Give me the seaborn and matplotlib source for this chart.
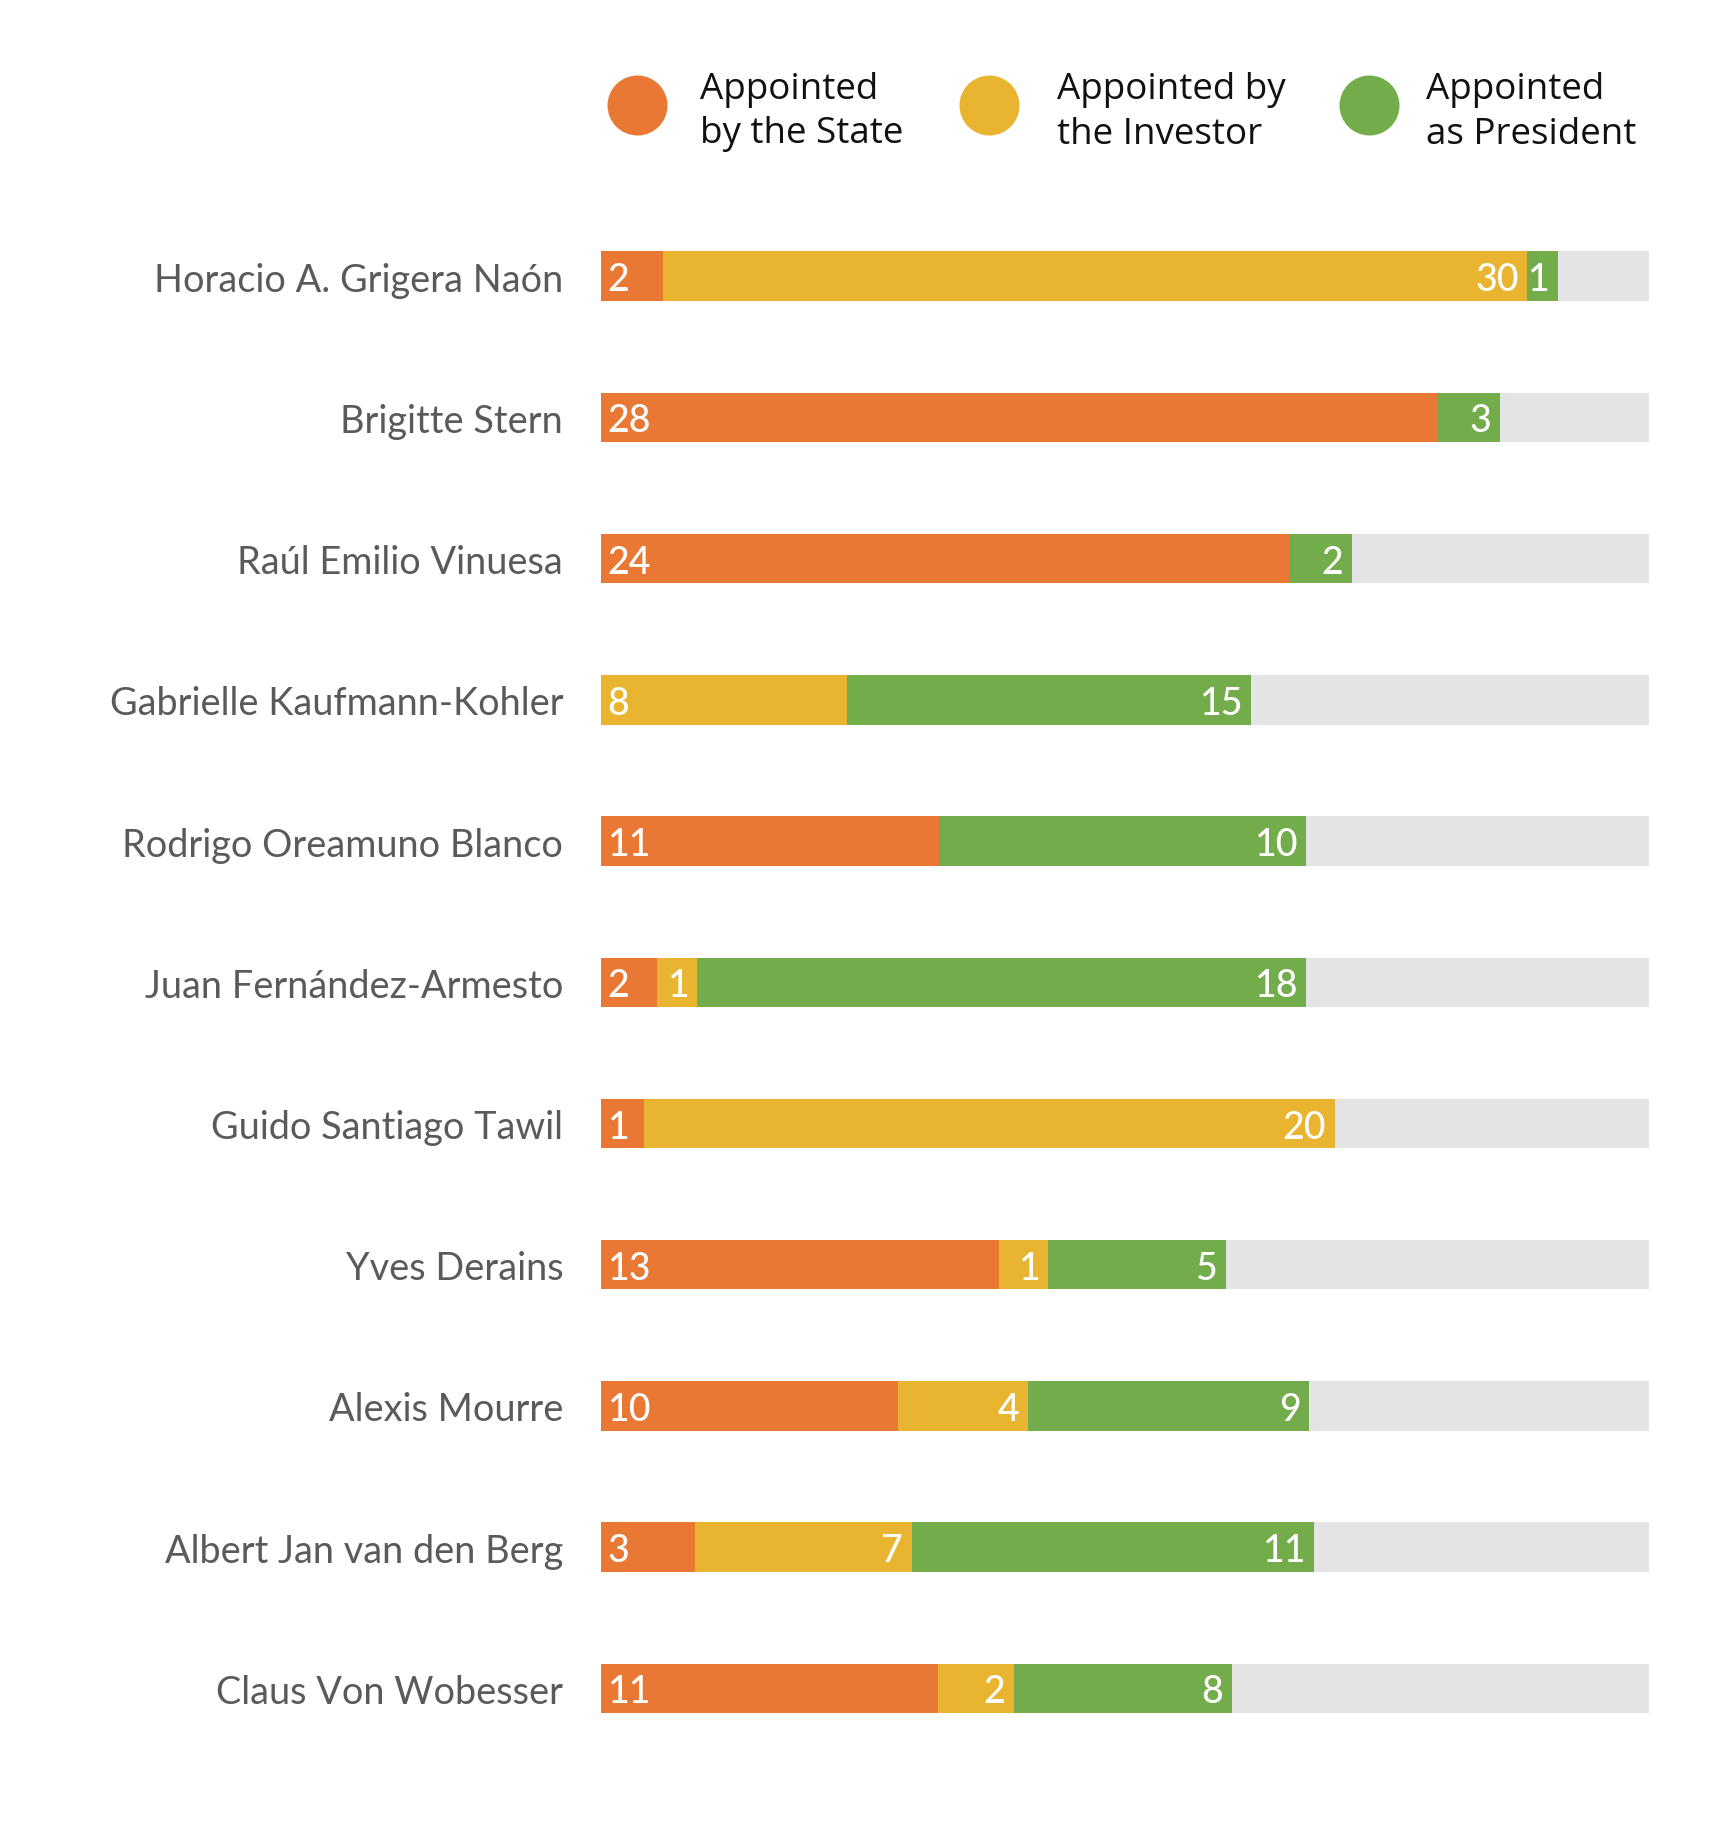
import numpy as np
import pandas as pd
import matplotlib
matplotlib.use("Agg")
import matplotlib.pyplot as plt
import seaborn as sns

# data
names = ["Horacio A. Grigera Naón", "Brigitte Stern", "Raúl Emilio Vinuesa",
         "Gabrielle Kaufmann-Kohler", "Rodrigo Oreamuno Blanco",
         "Juan Fernández-Armesto", "Guido Santiago Tawil", "Yves Derains",
         "Alexis Mourre", "Albert Jan van den Berg", "Claus Von Wobesser"]

# counts printed on the bars
state_n = [2, 28, 24, 0, 11, 2, 1, 13, 10, 3, 11]
investor_n = [30, 0, 0, 8, 0, 1, 20, 1, 4, 7, 2]
president_n = [1, 3, 2, 15, 10, 18, 0, 5, 9, 11, 8]

# segment lengths as drawn in the original (not strictly proportional to counts)
state_len = [2.15, 28.8, 23.7, 0, 11.65, 1.93, 1.5, 13.71, 10.23, 3.25, 11.63]
investor_len = [29.76, 0, 0, 8.48, 0, 1.4, 23.78, 1.7, 4.49, 7.46, 2.61]
president_len = [1.04, 2.17, 2.17, 13.91, 12.65, 20.97, 0, 6.12, 9.68, 13.86, 7.49]
track_len = 36.1

legend_labels = [("Appointed", "by the State"),
                 ("Appointed by", "the Investor"),
                 ("Appointed", "as President")]

c_state = "#E97834"
c_inv = "#E9B430"
c_pres = "#72AC4B"
c_track = "#E5E4E4"

df = pd.DataFrame({"name": names,
                   "state": state_len, "investor": investor_len, "president": president_len})
df["s_end"] = df["state"]
df["i_end"] = df["state"] + df["investor"]
df["p_end"] = df["i_end"] + df["president"]
df["track"] = track_len

sns.set_theme(style="white")
plt.rcParams["font.family"] = ["Lato", "DejaVu Sans"]

W, H = 1736, 1849
x_left, x_right = 600.7, 1649
fig = plt.figure(figsize=(W / 100, H / 100), dpi=100)
ax = fig.add_axes([x_left / W, 1 - 1760 / H, (x_right - x_left) / W, (1760 - 206.6) / H])

bh = 0.35
for col, colr in [("track", c_track), ("p_end", c_pres), ("i_end", c_inv), ("s_end", c_state)]:
    sns.barplot(data=df, x=col, y="name", color=colr, width=bh, orient="h",
                saturation=1, ax=ax, linewidth=0)

ax.set_xlim(0, track_len)
ax.set_ylim(len(names) - 0.5, -0.5)
ax.set_xlabel("")
ax.set_ylabel("")
ax.set_xticks([])
ax.tick_params(axis="y", length=0, pad=27)
ax.set_yticks(range(len(names)))
ax.set_yticklabels(names, fontsize=27.3, color="#5A5A5C", fontweight="normal")
sns.despine(ax=ax, left=True, bottom=True)

# value labels
pad_l, pad_r = 0.22, 0.3
for i in range(len(names)):
    segs = [(0, state_len[i], state_n[i]),
            (state_len[i], state_len[i] + investor_len[i], investor_n[i]),
            (state_len[i] + investor_len[i], state_len[i] + investor_len[i] + president_len[i], president_n[i])]
    first = True
    for x0, x1, n in segs:
        if n == 0:
            continue
        if first:
            ax.text(x0 + pad_l, i, str(n), ha="left", va="center_baseline",
                    color="white", fontsize=27, fontweight="medium")
            first = False
        else:
            ax.text(x1 - pad_r, i, str(n), ha="right", va="center_baseline",
                    color="white", fontsize=27, fontweight="medium")

# legend drawn on an overlay in pixel units
lax = fig.add_axes([0, 0, 1, 1])
lax.set_xlim(0, W)
lax.set_ylim(H, 0)
lax.axis("off")
lax.patch.set_alpha(0)
dot_x = [636.8, 989.4, 1369.2]
txt_x = [700.5, 1056.6, 1425.8]
for (l1, l2), cx, tx, colr in zip(legend_labels, dot_x, txt_x, [c_state, c_inv, c_pres]):
    lax.scatter([cx], [105.5], s=1866, color=colr, linewidth=0)
    lax.text(tx, 98.5, l1, ha="left", va="baseline", fontsize=26.5,
             color="#111111", family=["Open Sans", "DejaVu Sans"])
    lax.text(tx, 143.5, l2, ha="left", va="baseline", fontsize=26.5,
             color="#111111", family=["Open Sans", "DejaVu Sans"])

fig.savefig("out.png", dpi=100, facecolor="white")
